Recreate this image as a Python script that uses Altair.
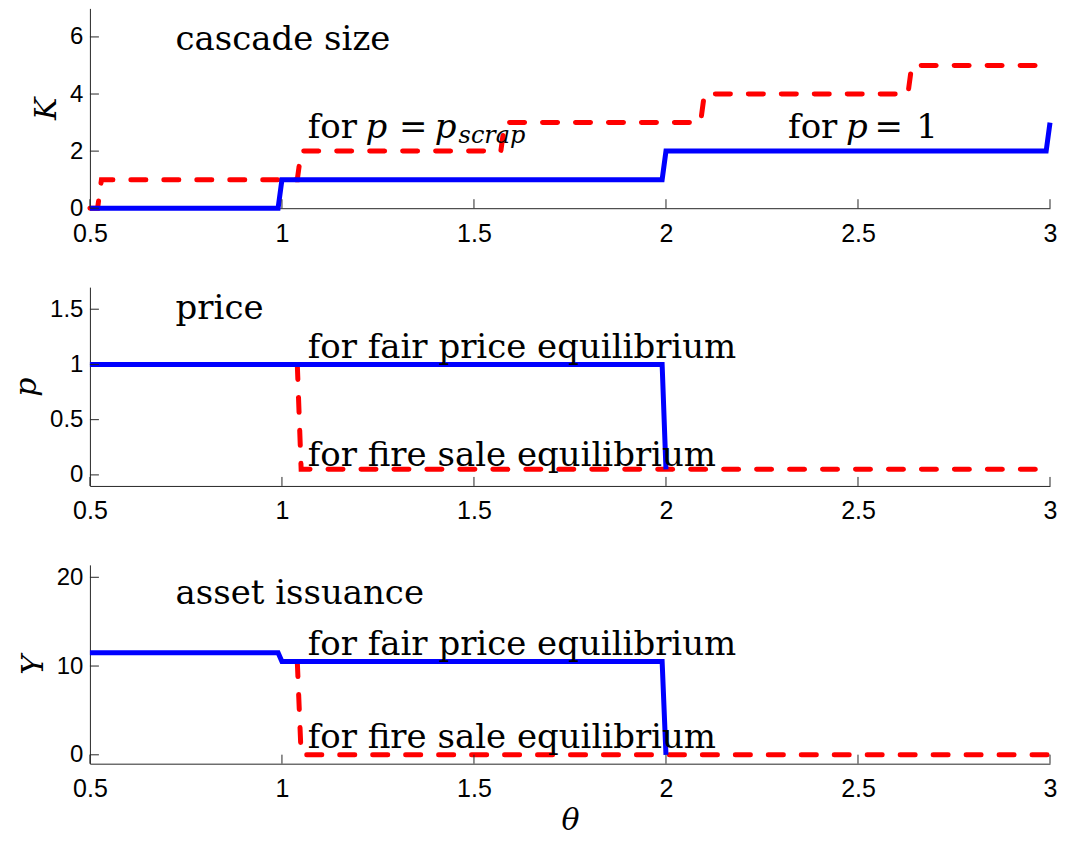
import altair as alt
import pandas as pd

# ---------------- data ----------------
x_ticks = [0.5, 1.0, 1.5, 2.0, 2.5, 3.0]

# Panel 1: cascade size K
k_ticks = [0, 2, 4, 6]
k_blue_theta = [0.5, 0.99, 1.0, 1.99, 2.0, 2.99, 3.0]
k_blue_val = [0, 0, 1, 1, 2, 2, 3]
k_red_theta = [0.5, 0.52, 0.53, 1.04, 1.05, 1.57, 1.58, 2.09, 2.10, 2.63, 2.64, 3.0]
k_red_val = [0, 0, 1, 1, 2, 2, 3, 3, 4, 4, 5, 5]

# Panel 2: price p
p_ticks = [0, 0.5, 1, 1.5]
p_blue_theta = [0.5, 1.99, 2.0]
p_blue_val = [1, 1, 0.05]
p_red_theta = [1.04, 1.05, 3.0]
p_red_val = [1, 0.05, 0.05]

# Panel 3: asset issuance Y
y_ticks = [0, 10, 20]
y_blue_theta = [0.5, 0.99, 1.0, 1.99, 2.0]
y_blue_val = [11.5, 11.5, 10.5, 10.5, 0]
y_red_theta = [1.04, 1.05, 3.0]
y_red_val = [10.5, 0, 0]

# annotations (text, kind, theta, value)
k_ann_text = ["cascade size", "for", "p", "=", "p", "scrap", "for", "p", "=", "1"]
k_ann_kind = ["plain", "plain", "ital", "sym", "ital", "sub", "plain", "ital", "sym", "sym"]
k_ann_theta = [0.723, 1.067, 1.246, 1.342, 1.426, 1.460, 2.318, 2.497, 2.580, 2.680]
k_ann_val = [5.53, 2.47, 2.47, 2.47, 2.47, 2.47, 2.47, 2.47, 2.47, 2.47]

p_ann_text = ["price", "for fair price equilibrium", "for fire sale equilibrium"]
p_ann_kind = ["plain", "plain", "plain"]
p_ann_theta = [0.723, 1.067, 1.067]
p_ann_val = [1.41, 1.054, 0.08]

y_ann_text = ["asset issuance", "for fair price equilibrium", "for fire sale equilibrium"]
y_ann_kind = ["plain", "plain", "plain"]
y_ann_theta = [0.723, 1.067, 1.067]
y_ann_val = [17.0, 11.2, 0.8]

# ---------------- styling ----------------
SERIF = "DejaVu Serif"
SANS = "Liberation Sans"
AX = "#262626"
BLUE = "#0000ff"
RED = "#ff0000"
W = 961
ANN_SIZE = 34


def frame(theta, val):
    return pd.DataFrame({"x": theta, "y": val, "i": list(range(len(theta)))})


def make_panel(h, ydom, yticks, ytitle, red, blue, ann, bottom):
    xs = alt.Scale(domain=[0.5, 3.0], nice=False, zero=False)
    ys = alt.Scale(domain=ydom, nice=False, zero=False)
    xkw = dict(values=x_ticks, ticks=False, grid=False, labelFont=SANS,
               labelFontSize=25, labelColor="#000000", labelPadding=13,
               domainColor=AX, domainWidth=1, labelFlush=False,
               labelOverlap=False, format="~r")
    if bottom:
        xkw.update(title="θ", titleFont=SERIF, titleFontStyle="italic",
                   titleFontSize=30, titleFontWeight="normal",
                   titlePadding=4, titleColor="#000000")
    else:
        xkw["title"] = None
    xaxis = alt.Axis(**xkw)
    yaxis = alt.Axis(values=yticks, ticks=False, grid=False, labelFont=SANS,
                     labelFontSize=24, labelColor="#000000", labelPadding=7,
                     domainColor=AX, domainWidth=1, labelFlush=False,
                     labelOverlap=False, format="~r", title=ytitle,
                     titleFont=SERIF, titleFontStyle="italic",
                     titleFontSize=30, titleFontWeight="normal",
                     titlePadding=8, titleColor="#000000")
    X = alt.X("x:Q", scale=xs, axis=xaxis)
    Y = alt.Y("y:Q", scale=ys, axis=yaxis)

    red_line = alt.Chart(red).mark_line(
        color=RED, strokeWidth=5, strokeDash=[15, 18], strokeCap="round"
    ).encode(x=X, y=Y, order="i:Q")
    blue_line = alt.Chart(blue).mark_line(
        color=BLUE, strokeWidth=5
    ).encode(x=X, y=Y, order="i:Q")

    xt = pd.DataFrame({"x": x_ticks})
    x_tick_rules = alt.Chart(xt).mark_rule(color=AX, strokeWidth=1).encode(
        x=X, y=alt.value(h), y2=alt.value(h - 9))
    yt = pd.DataFrame({"y": yticks})
    y_tick_rules = alt.Chart(yt).mark_rule(color=AX, strokeWidth=1).encode(
        y=Y, x=alt.value(0), x2=alt.value(9))

    layers = [red_line, blue_line, x_tick_rules, y_tick_rules]
    styles = {
        "plain": dict(fontStyle="normal", fontSize=ANN_SIZE, dy=0, align="left"),
        "ital": dict(fontStyle="italic", fontSize=ANN_SIZE, dy=0, align="center"),
        "sym": dict(fontStyle="normal", fontSize=ANN_SIZE, dy=0, align="center"),
        "sub": dict(fontStyle="italic", fontSize=24, dy=5, align="left"),
    }
    for kind, st in styles.items():
        sub = ann[ann["kind"] == kind]
        if len(sub) == 0:
            continue
        layers.append(
            alt.Chart(sub).mark_text(
                baseline="alphabetic", font=SERIF, color="#000000", **st
            ).encode(x=X, y=Y, text="label:N")
        )
    return alt.layer(*layers).properties(width=W, height=h)


def ann_frame(text, kind, theta, val):
    return pd.DataFrame({"label": text, "kind": kind, "x": theta, "y": val})


p1 = make_panel(200, [0, 7], k_ticks, "K",
                frame(k_red_theta, k_red_val), frame(k_blue_theta, k_blue_val),
                ann_frame(k_ann_text, k_ann_kind, k_ann_theta, k_ann_val), False)
p2 = make_panel(199, [-0.1, 1.7], p_ticks, "p",
                frame(p_red_theta, p_red_val), frame(p_blue_theta, p_blue_val),
                ann_frame(p_ann_text, p_ann_kind, p_ann_theta, p_ann_val), False)
p3 = make_panel(199, [-1, 21.4], y_ticks, "Y",
                frame(y_red_theta, y_red_val), frame(y_blue_theta, y_blue_val),
                ann_frame(y_ann_text, y_ann_kind, y_ann_theta, y_ann_val), True)

chart = alt.vconcat(p1, p2, p3, spacing=79, bounds="flush").properties(
    padding={"left": 3, "top": 0, "right": 0, "bottom": 0}
).configure_view(stroke="transparent", strokeWidth=0)

chart.save("out.html", embed_options={"renderer": "svg", "actions": False})
